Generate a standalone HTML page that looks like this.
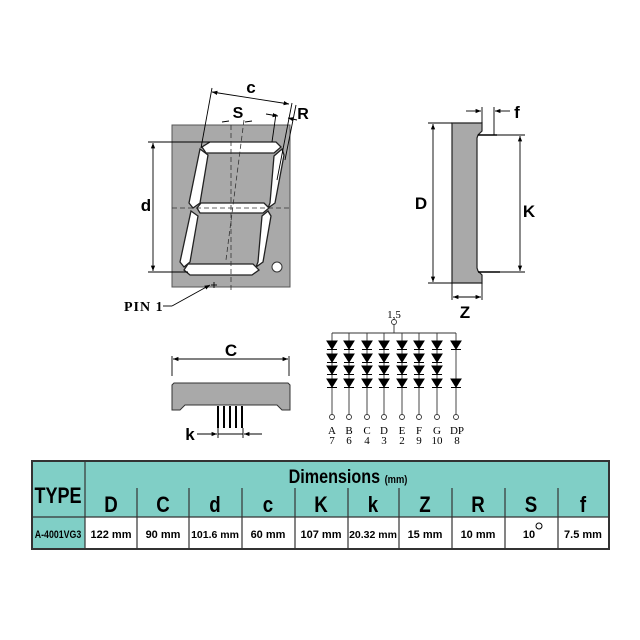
<!DOCTYPE html>
<html><head><style>
body{margin:0;background:#fff;}
svg{display:block;}
.t{font-family:"Liberation Sans",sans-serif;font-weight:bold;}
.s{font-family:"Liberation Serif",serif;}
</style></head><body>
<svg width="640" height="640" viewBox="0 0 640 640" xmlns="http://www.w3.org/2000/svg">
<defs>
<marker id="a" viewBox="0 0 10 10" refX="10" refY="5" markerWidth="6" markerHeight="6" orient="auto-start-reverse"><path d="M0,1 L10,5 L0,9z" fill="#000"/></marker>
</defs>
<!-- front view -->
<rect x="172" y="125" width="118" height="162" fill="#a9a9a9" stroke="#555" stroke-width="1"/>
<g fill="#fff" stroke="#222" stroke-width="1.3">
<polygon points="210,142 276,142 281,147 274,153 206,153 202,147"/>
<polygon points="200,149 208,155 200,203 193,208 189,203"/>
<polygon points="282,149 284,155 275,203 268,208 270,203 274,156"/>
<polygon points="197,208 201,203 264,203 269,208 263,213 200,213"/>
<polygon points="191,211 198,216 190,262 184,267 180,262"/>
<polygon points="268,211 271,216 263,262 256,267 258,262 262,216"/>
<polygon points="188,264 253,264 259,270 252,275 190,275 184,270"/>
</g>
<circle cx="277" cy="267" r="5" fill="#fff" stroke="#333"/>
<g stroke="#333" stroke-width="0.8" fill="none" stroke-dasharray="5,3">
<line x1="231" y1="125" x2="231" y2="290"/>
<line x1="172" y1="208" x2="290" y2="208"/>
<line x1="244" y1="120" x2="226" y2="260"/>
</g>
<g stroke="#000" stroke-width="0.9" fill="none">
<line x1="148" y1="142" x2="210" y2="142"/>
<line x1="148" y1="272" x2="188" y2="272"/>
<line x1="153" y1="143" x2="153" y2="271" marker-start="url(#a)" marker-end="url(#a)"/>
<line x1="212" y1="88" x2="201" y2="148"/>
<line x1="292" y1="103" x2="277" y2="180"/>
<line x1="212" y1="92" x2="289" y2="104" marker-start="url(#a)" marker-end="url(#a)"/>
<line x1="296" y1="105" x2="285" y2="160"/>
<line x1="288" y1="118" x2="297" y2="120" marker-start="url(#a)"/>
<line x1="266" y1="114" x2="278" y2="116" marker-end="url(#a)"/>
<line x1="276" y1="114" x2="272" y2="142"/>
<line x1="222" y1="122" x2="229" y2="121"/>
<line x1="245" y1="122" x2="252" y2="121"/>
<line x1="163" y1="306" x2="172" y2="306"/>
<line x1="172" y1="306" x2="210" y2="285" marker-end="url(#a)"/>
<line x1="214" y1="282" x2="214" y2="288"/><line x1="211" y1="285" x2="217" y2="285"/>
</g>
<text x="251" y="93" class="t" font-size="17" text-anchor="middle">c</text>
<text x="238" y="118" class="t" font-size="16" text-anchor="middle">S</text>
<text x="303" y="119" class="t" font-size="16" text-anchor="middle">R</text>
<text x="146" y="211" class="t" font-size="17" text-anchor="middle">d</text>
<text x="124" y="311" class="s" font-size="14" font-weight="bold" letter-spacing="1">PIN 1</text>
<!-- side view -->
<path d="M452,123 L482,123 L482,131 L478,135 L477,138 L477,268 L478,271 L482,275 L482,283 L452,283 Z" fill="#a9a9a9" stroke="#222" stroke-width="1.2"/>
<g stroke="#000" stroke-width="0.9" fill="none">
<line x1="428" y1="123" x2="452" y2="123"/><line x1="428" y1="283" x2="452" y2="283"/>
<line x1="433" y1="124" x2="433" y2="282" marker-start="url(#a)" marker-end="url(#a)"/>
<line x1="478" y1="135" x2="497" y2="135" stroke-width="1.6"/>
<line x1="478" y1="272" x2="500" y2="272" stroke-width="1.6"/>
<line x1="497" y1="135" x2="525" y2="135"/><line x1="500" y1="272" x2="525" y2="272"/>
<line x1="520" y1="136" x2="520" y2="271" marker-start="url(#a)" marker-end="url(#a)"/>
<line x1="482" y1="107" x2="482" y2="123"/><line x1="494" y1="107" x2="494" y2="135"/>
<line x1="466" y1="111" x2="481" y2="111" marker-end="url(#a)"/>
<line x1="510" y1="111" x2="495" y2="111" marker-end="url(#a)"/>
<line x1="452" y1="283" x2="452" y2="300"/><line x1="482" y1="283" x2="482" y2="300"/>
<line x1="453" y1="297" x2="481" y2="297" marker-start="url(#a)" marker-end="url(#a)"/>
</g>
<text x="421" y="209" class="t" font-size="17" text-anchor="middle">D</text>
<text x="529" y="217" class="t" font-size="17" text-anchor="middle">K</text>
<text x="517" y="118" class="t" font-size="17" text-anchor="middle">f</text>
<text x="465" y="318" class="t" font-size="17" text-anchor="middle">Z</text>
<!-- bottom view -->
<path d="M174,383 L288,383 L290,385 L290,410 L282,410 L277,405 L185,405 L180,410 L172,410 L172,385 Z" fill="#a9a9a9" stroke="#333"/>
<g stroke="#000" fill="none">
<line x1="218" y1="406" x2="218" y2="428" stroke-width="2"/>
<line x1="224" y1="406" x2="224" y2="428" stroke-width="2"/>
<line x1="230" y1="406" x2="230" y2="428" stroke-width="2"/>
<line x1="236" y1="406" x2="236" y2="428" stroke-width="2"/>
<line x1="242" y1="406" x2="242" y2="428" stroke-width="2"/>
<g stroke-width="0.9">
<line x1="172" y1="356" x2="172" y2="376"/><line x1="289" y1="356" x2="289" y2="376"/>
<line x1="173" y1="359" x2="288" y2="359" marker-start="url(#a)" marker-end="url(#a)"/>
<line x1="218" y1="428" x2="218" y2="438"/><line x1="243" y1="428" x2="243" y2="438"/>
<line x1="197" y1="434" x2="217" y2="434" marker-end="url(#a)"/>
<line x1="218" y1="434" x2="243" y2="434"/>
<line x1="262" y1="434" x2="244" y2="434" marker-end="url(#a)"/>
</g></g>
<text x="231" y="356" class="t" font-size="17" text-anchor="middle">C</text>
<text x="190" y="440" class="t" font-size="17" text-anchor="middle">k</text>
<!-- circuit -->
<g stroke="#333" stroke-width="0.9" fill="none">
<circle cx="394" cy="322" r="2.5" fill="#fff"/>
<line x1="394" y1="325" x2="394" y2="333"/>
<line x1="332" y1="333" x2="456" y2="333"/>
</g>
<g id="col">
<line x1="332" y1="333" x2="332" y2="414" stroke="#333" stroke-width="0.9"/>
<g fill="#000" stroke="#000" stroke-width="1">
<polygon points="327,341 337,341 332,349"/><line x1="327" y1="349.5" x2="337" y2="349.5"/>
<polygon points="327,354 337,354 332,362"/><line x1="327" y1="362.5" x2="337" y2="362.5"/>
<polygon points="327,366 337,366 332,374"/><line x1="327" y1="374.5" x2="337" y2="374.5"/>
<polygon points="327,379 337,379 332,387"/><line x1="327" y1="387.5" x2="337" y2="387.5"/>
</g>
<circle cx="332" cy="417" r="2.5" fill="#fff" stroke="#333" stroke-width="0.9"/>
</g>
<use href="#col" x="17"/><use href="#col" x="35"/><use href="#col" x="52"/>
<use href="#col" x="70"/><use href="#col" x="87"/><use href="#col" x="105"/>
<g>
<line x1="456" y1="333" x2="456" y2="414" stroke="#333" stroke-width="0.9"/>
<g fill="#000" stroke="#000">
<polygon points="451,341 461,341 456,349"/><line x1="451" y1="349.5" x2="461" y2="349.5"/>
<polygon points="451,379 461,379 456,387"/><line x1="451" y1="387.5" x2="461" y2="387.5"/>
</g>
<circle cx="456" cy="417" r="2.5" fill="#fff" stroke="#333" stroke-width="0.9"/>
</g>
<g class="s" font-size="11" text-anchor="middle">
<text x="394" y="318">1,5</text>
<text x="332" y="434">A</text><text x="349" y="434">B</text><text x="367" y="434">C</text><text x="384" y="434">D</text><text x="402" y="434">E</text><text x="419" y="434">F</text><text x="437" y="434">G</text><text x="457" y="434">DP</text>
<text x="332" y="444">7</text><text x="349" y="444">6</text><text x="367" y="444">4</text><text x="384" y="444">3</text><text x="402" y="444">2</text><text x="419" y="444">9</text><text x="437" y="444">10</text><text x="457" y="444">8</text>
</g>
<!-- table -->
<rect x="32" y="461" width="577" height="88" fill="#80cfc6"/>
<rect x="85" y="517" width="524" height="32" fill="#fff"/>
<g stroke="#333" stroke-width="1.2" fill="none">
<rect x="32" y="461" width="577" height="88" stroke-width="2"/>
<line x1="32" y1="517" x2="609" y2="517"/>
<line x1="85" y1="461" x2="85" y2="549"/>
<line x1="137" y1="488" x2="137" y2="549"/><line x1="189" y1="488" x2="189" y2="549"/>
<line x1="242" y1="488" x2="242" y2="549"/><line x1="295" y1="488" x2="295" y2="549"/>
<line x1="348" y1="488" x2="348" y2="549"/><line x1="399" y1="488" x2="399" y2="549"/>
<line x1="452" y1="488" x2="452" y2="549"/><line x1="505" y1="488" x2="505" y2="549"/>
<line x1="558" y1="488" x2="558" y2="549"/>
</g>
<g class="t">
<text x="58" y="503" font-size="22" text-anchor="middle" transform="translate(58 0) scale(0.82 1) translate(-58 0)">TYPE</text>
<text x="348" y="483" font-size="19" text-anchor="middle" transform="translate(348 0) scale(0.85 1) translate(-348 0)">Dimensions <tspan font-size="11">(mm)</tspan></text>
<g font-size="22" text-anchor="middle">
<text x="111" y="512" transform="translate(111 0) scale(0.85 1) translate(-111 0)">D</text>
<text x="163" y="512" transform="translate(163 0) scale(0.85 1) translate(-163 0)">C</text>
<text x="215" y="512" transform="translate(215 0) scale(0.85 1) translate(-215 0)">d</text>
<text x="268" y="512" transform="translate(268 0) scale(0.85 1) translate(-268 0)">c</text>
<text x="321" y="512" transform="translate(321 0) scale(0.85 1) translate(-321 0)">K</text>
<text x="373" y="512" transform="translate(373 0) scale(0.85 1) translate(-373 0)">k</text>
<text x="425" y="512" transform="translate(425 0) scale(0.85 1) translate(-425 0)">Z</text>
<text x="478" y="512" transform="translate(478 0) scale(0.85 1) translate(-478 0)">R</text>
<text x="531" y="512" transform="translate(531 0) scale(0.85 1) translate(-531 0)">S</text>
<text x="583" y="512" transform="translate(583 0) scale(0.85 1) translate(-583 0)">f</text>
</g>
<g font-size="11" text-anchor="middle" font-weight="bold">
<text x="58" y="538" font-size="11" transform="translate(58 0) scale(0.8 1) translate(-58 0)">A-4001VG3</text>
<text x="111" y="538">122 mm</text><text x="163" y="538">90 mm</text><text x="215" y="538" font-size="10.5">101.6 mm</text><text x="268" y="538">60 mm</text><text x="321" y="538">107 mm</text><text x="373" y="538" font-size="10.5">20.32 mm</text><text x="425" y="538">15 mm</text><text x="478" y="538">10 mm</text><text x="529" y="538">10</text><text x="583" y="538">7.5 mm</text>
</g>
</g>
<circle cx="539" cy="526" r="3" fill="none" stroke="#000" stroke-width="1"/>
</svg>
</body></html>
